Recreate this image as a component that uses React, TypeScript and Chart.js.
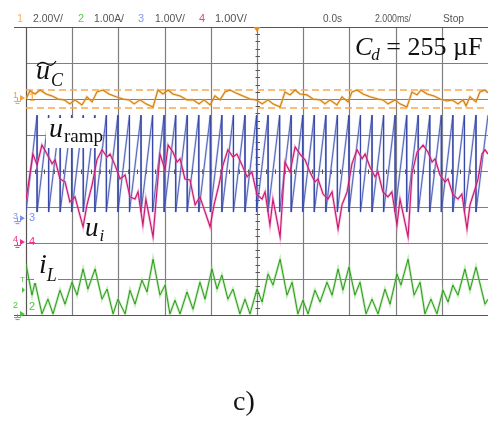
import React, { useEffect, useRef } from "react";
import { Chart, registerables } from "chart.js";
Chart.register(...registerables);

const W = 488;
const H = 421;

// Time axis in ms (2.000 ms/div, trigger at 0), vertical axis in screen divisions
const timeMin = -10;
const timeMax = 10;
const divMin = -4;
const divMax = 4;
const gridTimes = [-8, -6, -4, -2, 0, 2, 4, 6, 8];
const gridDivs = [-3, -2, -1, 0, 1, 2, 3];

// channel ground offsets (div) and units per division
const ch1 = { offset: 2.03, perDiv: 2 }; // 2.00V/
const ch2 = { offset: -4.03, perDiv: 1 }; // 1.00A/
const ch3 = { offset: -1.31, perDiv: 1 }; // 1.00V/
const ch4 = { offset: -1.97, perDiv: 1 }; // 1.00V/

// Channel 1: capacitor voltage ripple (V)
const ucT = [-10.0, -9.83, -9.61, -9.39, -9.13, -8.87, -8.61, -8.35, -8.1, -7.88, -7.58, -7.36, -7.14, -6.93, -6.67, -6.41, -6.1, -5.8, -5.54, -5.32, -5.06, -4.81, -4.5,
  -4.29, -4.07, -3.85, -3.64, -3.33, -3.03, -2.77, -2.51, -2.29, -2.03, -1.82, -1.6, -1.39, -1.17, -0.91, -0.61, -0.3, -0.04, 0.22, 0.48, 0.69, 1.0,
  1.21, 1.43, 1.65, 1.86, 2.16, 2.42, 2.73, 2.94, 3.16, 3.46, 3.68, 3.94, 4.11, 4.33, 4.59, 4.89, 5.24, 5.45, 5.67, 5.97, 6.19, 6.49,
  6.71, 6.93, 7.1, 7.36, 7.66, 7.92, 8.23, 8.44, 8.7, 8.92, 9.05, 9.22, 9.48, 9.65, 9.87, 10.0];
const ucV = [-0.06, 0.39, 0.22, 0.44, 0.22, 0.11, -0.06, -0.11, -0.33, -0.11, -0.39, 0.06, -0.22, 0.33, 0.44, 0.22, 0.06, -0.06, -0.11, -0.33, -0.11, -0.33, -0.5,
  0.44, 0.22, 0.44, 0.22, 0.11, -0.11, -0.11, -0.33, -0.11, -0.39, 0.11, -0.11, 0.33, 0.44, 0.28, 0.11, -0.06, -0.11, -0.33, -0.11, -0.33, -0.5,
  0.33, 0.17, 0.44, 0.22, 0.17, -0.06, -0.11, -0.33, -0.11, -0.39, 0.06, -0.22, 0.33, 0.44, 0.22, 0.06, -0.06, -0.11, -0.33, -0.11, -0.33, -0.5,
  0.33, 0.17, 0.44, 0.22, 0.11, -0.06, -0.17, -0.11, -0.33, -0.11, -0.44, 0.06, -0.22, 0.33, 0.44, 0.28];
const ucCursors = [0.44, -0.56];

// Channel 2: inductor current (A)
const ilT = [-10.0, -9.74, -9.61, -9.31, -9.05, -8.83, -8.53, -8.31, -8.01, -7.79, -7.53, -7.32, -7.01, -6.71, -6.49, -6.23, -6.02, -5.71, -5.5, -5.28, -4.98, -4.76,
  -4.5, -4.2, -3.98, -3.77, -3.55, -3.33, -3.03, -2.77, -2.47, -2.25, -1.95, -1.73, -1.52, -1.26, -1.04, -0.74, -0.52, -0.3, 0.0, 0.22, 0.48, 0.69,
  1.0, 1.3, 1.52, 1.77, 1.99, 2.21, 2.51, 2.73, 3.03, 3.25, 3.51, 3.72, 3.98, 4.24, 4.46, 4.72, 4.98, 5.24, 5.54, 5.76, 6.06, 6.23,
  6.54, 6.8, 7.06, 7.27, 7.53, 7.79, 8.05, 8.27, 8.48, 8.7, 9.0, 9.22, 9.48, 9.87, 10.0];
const ilA = [1.44, 0.58, 0.94, 0.06, 0.47, 0.06, 0.72, 0.33, 0.94, 0.58, 1.31, 0.75, 1.31, 0.47, 0.75, 0.06, 0.47, 0.06, 0.72, 0.33, 1.0, 0.67,
  1.58, 0.58, 0.86, 0.06, 0.44, 0.06, 0.67, 0.19, 0.94, 0.47, 1.31, 0.75, 1.14, 0.47, 0.75, 0.06, 0.47, 0.06, 0.75, 0.39, 1.17, 0.86,
  1.58, 0.58, 0.94, 0.06, 0.44, 0.06, 0.72, 0.39, 0.94, 0.58, 1.31, 0.72, 1.36, 0.58, 0.94, 0.06, 0.47, 0.06, 0.75, 0.33, 1.17, 0.86,
  1.58, 0.58, 0.94, 0.06, 0.47, 0.06, 0.72, 0.39, 0.86, 0.58, 1.31, 0.72, 1.36, 0.33, 0.47];

// Channel 3: ramp (V) – reset instants (ms) and levels
const rampResets = [-9.52, -9.02, -8.52, -8.02, -7.52, -7.02, -6.52, -6.02, -5.52, -5.02, -4.52, -4.02, -3.52, -3.02, -2.52, -2.02, -1.52, -1.02, -0.52, -0.02,
  0.48, 0.98, 1.48, 1.98, 2.48, 2.98, 3.48, 3.98, 4.48, 4.98, 5.48, 5.98, 6.48, 6.98, 7.48, 7.98, 8.48, 8.98, 9.48];
const rampLow = 0.17;
const rampHigh = 2.86;

// Channel 4: u_i (V)
const uiT = [-10.0, -9.7, -9.52, -9.31, -9.09, -8.87, -8.74, -8.53, -8.31, -8.1, -7.88, -7.53, -7.36, -7.14, -6.93, -6.71, -6.49, -6.36, -6.15, -5.93, -5.71, -5.5, -5.28, -5.15, -4.94, -4.81,
  -4.5, -4.2, -3.98, -3.85, -3.64, -3.46, -3.33, -3.12, -2.9, -2.68, -2.47, -2.03, -1.86, -1.65, -1.47, -1.26, -1.04, -0.87, -0.65, -0.43, -0.22, 0.0, 0.22, 0.35, 0.56, 0.69,
  1.0, 1.21, 1.43, 1.65, 1.86, 2.08, 2.29, 2.51, 2.64, 2.86, 3.07, 3.25, 3.51, 3.68, 3.9, 4.11, 4.33, 4.55, 4.68, 4.89, 5.11, 5.24, 5.45, 5.67, 5.84, 6.06, 6.19,
  6.54, 6.71, 6.93, 7.19, 7.4, 7.58, 7.71, 7.92, 8.14, 8.27, 8.48, 8.7, 8.87, 9.09, 9.22, 9.44, 9.57, 9.74, 9.87, 10.0];
const uiV = [1.17, 2.44, 2.14, 2.69, 2.44, 2.17, 2.28, 1.75, 1.67, 1.11, 1.25, 0.42, 1.03, 1.58, 2.28, 2.56, 2.36, 2.44, 2.14, 1.75, 1.86, 1.25, 1.19, 1.39, 0.47, 1.19,
  0.14, 2.44, 2.0, 2.69, 2.5, 2.22, 2.31, 1.75, 1.72, 1.03, 1.25, 0.42, 1.03, 1.58, 2.14, 2.56, 2.36, 2.44, 2.14, 1.81, 1.94, 1.31, 1.19, 1.39, 0.47, 1.19,
  0.14, 2.22, 1.94, 2.64, 2.44, 2.28, 1.94, 1.67, 1.75, 1.33, 1.19, 1.39, 0.36, 1.03, 1.39, 2.17, 2.56, 2.31, 2.44, 2.08, 1.81, 1.94, 1.39, 1.25, 1.39, 0.47, 1.19,
  0.14, 1.89, 2.5, 2.69, 2.5, 2.22, 2.31, 1.86, 1.67, 1.75, 1.31, 1.19, 1.33, 0.36, 1.03, 1.47, 1.75, 2.44, 2.56, 2.44];

const headerItems = [
  { text: "1", x: 17, color: "#f5b066" },
  { text: "2.00V/", x: 33, color: "#555", w: 30 },
  { text: "2", x: 78, color: "#58cc48" },
  { text: "1.00A/", x: 94, color: "#555", w: 30 },
  { text: "3", x: 138, color: "#8595ee" },
  { text: "1.00V/", x: 155, color: "#555", w: 30 },
  { text: "4", x: 199, color: "#ef3a92" },
  { text: "1.00V/", x: 215, color: "#555", w: 32 },
  { text: "0.0s", x: 323, color: "#555", w: 19 },
  { text: "2.000ms/", x: 375, color: "#555", w: 36 },
  { text: "Stop", x: 443, color: "#555", w: 21 },
];

const toPts = (ts: number[], vs: number[], ch: { offset: number; perDiv: number }) =>
  ts.map((t, i) => ({ x: t, y: ch.offset + vs[i] / ch.perDiv }));

function rampPoints() {
  const pts = [{ x: timeMin, y: ch3.offset + rampLow }];
  rampResets.forEach((r) => {
    pts.push({ x: r, y: ch3.offset + rampHigh });
    pts.push({ x: r, y: ch3.offset + rampLow });
  });
  pts.push({ x: timeMax, y: ch3.offset + rampHigh });
  return pts;
}

const SERIF = '"Liberation Serif", "Times New Roman", serif';
const SANS = '"Liberation Sans", Arial, sans-serif';

function runs(ctx: CanvasRenderingContext2D, x: number, items: { t: string; f: string; y: number; dx?: number }[]) {
  let cx = x;
  items.forEach((r) => {
    ctx.font = r.f;
    cx += r.dx || 0;
    ctx.fillText(r.t, cx, r.y);
    cx += ctx.measureText(r.t).width;
  });
}

function chanMarker(ctx: CanvasRenderingContext2D, label: string, y: number, color: string, labelY?: number) {
  const ly = labelY ?? y;
  ctx.fillStyle = color;
  ctx.strokeStyle = color;
  ctx.textAlign = "left";
  ctx.textBaseline = "middle";
  ctx.font = `9px ${SANS}`;
  ctx.fillText(label, 13, ly - 2);
  ctx.beginPath();
  ctx.moveTo(20, y - 3);
  ctx.lineTo(25, y);
  ctx.lineTo(20, y + 3);
  ctx.closePath();
  ctx.fill();
  ctx.lineWidth = 1;
  ctx.beginPath();
  ctx.moveTo(17.5, y);
  ctx.lineTo(17.5, y + 3);
  ctx.moveTo(14, y + 3.5);
  ctx.lineTo(21, y + 3.5);
  ctx.moveTo(15.5, y + 5.5);
  ctx.lineTo(19.5, y + 5.5);
  ctx.stroke();
  ctx.font = `11px ${SANS}`;
  ctx.fillText(label, 29, ly);
}

const scopePlugin = {
  id: "scope",
  beforeDatasetsDraw(chart: any) {
    const { ctx, chartArea: a, scales } = chart;
    const xs = scales.x;
    const ys = scales.y;
    ctx.save();
    ctx.fillStyle = "#fff";
    ctx.fillRect(0, 0, W, H);
    ctx.lineWidth = 1.2;
    ctx.strokeStyle = "#7e7e7e";
    gridTimes.forEach((t) => {
      const x = Math.round(xs.getPixelForValue(t)) + 0.5;
      ctx.beginPath();
      ctx.moveTo(x, a.top);
      ctx.lineTo(x, a.bottom);
      ctx.stroke();
    });
    gridDivs.forEach((d) => {
      const y = Math.round(ys.getPixelForValue(d)) + 0.5;
      ctx.beginPath();
      ctx.moveTo(a.left, y);
      ctx.lineTo(a.right, y);
      ctx.stroke();
    });
    // center axes with minor ticks
    ctx.lineWidth = 1;
    ctx.strokeStyle = "#555";
    const cx = Math.round(xs.getPixelForValue(0)) + 0.5;
    const cy = Math.round(ys.getPixelForValue(0)) + 0.5;
    for (let d = divMin; d <= divMax; d += 0.2) {
      const y = Math.round(ys.getPixelForValue(d)) + 0.5;
      ctx.beginPath();
      ctx.moveTo(cx - 2, y);
      ctx.lineTo(cx + 2.5, y);
      ctx.stroke();
    }
    for (let t = timeMin; t <= timeMax; t += 0.4) {
      const x = Math.round(xs.getPixelForValue(t)) + 0.5;
      ctx.beginPath();
      ctx.moveTo(x, cy - 2);
      ctx.lineTo(x, cy + 2.5);
      ctx.stroke();
    }
    // border
    ctx.strokeStyle = "#555";
    ctx.lineWidth = 1.2;
    ctx.beginPath();
    ctx.moveTo(14, a.top + 0.5);
    ctx.lineTo(W, a.top + 0.5);
    ctx.moveTo(14, a.bottom + 0.5);
    ctx.lineTo(W, a.bottom + 0.5);
    ctx.moveTo(a.left + 0.5, a.top);
    ctx.lineTo(a.left + 0.5, a.bottom);
    ctx.stroke();
    ctx.restore();
  },
  afterDatasetsDraw(chart: any) {
    const { ctx, chartArea: a, scales } = chart;
    const xs = scales.x;
    const ys = scales.y;
    ctx.save();
    // trigger marker
    const tx = xs.getPixelForValue(0);
    ctx.fillStyle = "#f08a10";
    ctx.beginPath();
    ctx.moveTo(tx - 3.5, a.top);
    ctx.lineTo(tx + 3.5, a.top);
    ctx.lineTo(tx, a.top + 5);
    ctx.closePath();
    ctx.fill();

    // channel markers
    chanMarker(ctx, "1", ys.getPixelForValue(ch1.offset), "#f0a040");
    chanMarker(ctx, "3", ys.getPixelForValue(ch3.offset), "#7d8ff0");
    chanMarker(ctx, "4", ys.getPixelForValue(ch4.offset), "#ee2e8c");
    const g = ys.getPixelForValue(ch2.offset);
    chanMarker(ctx, "2", g - 2, "#4fc040", g - 9);
    ctx.fillStyle = "#4fc040";
    ctx.font = `8px ${SANS}`;
    ctx.fillText("T", 20, g - 36);
    ctx.beginPath();
    ctx.moveTo(22, g - 29);
    ctx.lineTo(25, g - 26);
    ctx.lineTo(22, g - 23);
    ctx.closePath();
    ctx.fill();

    // label boxes
    ctx.fillStyle = "#fff";
    ctx.fillRect(46, 118, 55, 30);
    ctx.fillRect(34, 254, 24, 29);

    ctx.fillStyle = "#111";
    ctx.textAlign = "left";
    ctx.textBaseline = "alphabetic";
    // C_d = 255 µF
    runs(ctx, 355, [
      { t: "C", f: `italic 26px ${SERIF}`, y: 55 },
      { t: "d", f: `italic 17px ${SERIF}`, y: 60, dx: -1 },
      { t: " = 255 µF", f: `26px ${SERIF}`, y: 55 },
    ]);
    // ũ_C
    runs(ctx, 36, [
      { t: "u", f: `italic 28px ${SERIF}`, y: 79 },
      { t: "C", f: `italic 18px ${SERIF}`, y: 86, dx: 1 },
    ]);
    ctx.strokeStyle = "#111";
    ctx.lineWidth = 1.3;
    ctx.beginPath();
    ctx.moveTo(37, 66);
    ctx.bezierCurveTo(41, 60, 45, 63, 47, 64);
    ctx.bezierCurveTo(50, 66, 53, 66, 56, 61);
    ctx.stroke();
    // u_ramp
    runs(ctx, 49, [
      { t: "u", f: `italic 28px ${SERIF}`, y: 137 },
      { t: "ramp", f: `19px ${SERIF}`, y: 142, dx: 1 },
    ]);
    // u_i
    runs(ctx, 85, [
      { t: "u", f: `italic 27px ${SERIF}`, y: 236 },
      { t: "i", f: `italic 17px ${SERIF}`, y: 241, dx: 1 },
    ]);
    // i_L
    runs(ctx, 39, [
      { t: "i", f: `italic 28px ${SERIF}`, y: 273 },
      { t: "L", f: `italic 18px ${SERIF}`, y: 281, dx: 0 },
    ]);
    ctx.restore();
  },
  afterDraw(chart: any) {
    const { ctx } = chart;
    ctx.save();
    ctx.textAlign = "left";
    ctx.textBaseline = "alphabetic";
    ctx.font = `11px ${SANS}`;
    headerItems.forEach((h) => {
      ctx.fillStyle = h.color;
      if (h.w) ctx.fillText(h.text, h.x, 22, h.w);
      else ctx.fillText(h.text, h.x, 22);
    });
    ctx.fillStyle = "#111";
    ctx.font = `28px ${SERIF}`;
    ctx.textAlign = "center";
    ctx.fillText("c)", 244, 410);
    ctx.restore();
  },
};

function line(data: any[], color: string, width: number, order: number, dash?: number[]) {
  return {
    data,
    borderColor: color,
    borderWidth: width,
    pointRadius: 0,
    tension: 0,
    fill: false,
    order,
    borderDash: dash || [],
  };
}

export default function App() {
  const ref = useRef<HTMLCanvasElement>(null);
  useEffect(() => {
    if (!ref.current) return;
    const ramp = rampPoints();
    const ui = toPts(uiT, uiV, ch4);
    const uc = toPts(ucT, ucV, ch1);
    const il = toPts(ilT, ilA, ch2);
    const cursors = ucCursors.map((v) => [
      { x: timeMin, y: ch1.offset + v / ch1.perDiv },
      { x: timeMax, y: ch1.offset + v / ch1.perDiv },
    ]);
    const chart = new Chart(ref.current, {
      type: "line",
      data: {
        datasets: [
          line(cursors[0], "#f9a850", 1.4, 30, [7, 4]),
          line(cursors[1], "#f9a850", 1.4, 30, [7, 4]),
          line(ramp, "rgba(140,160,228,0.45)", 2.2, 20),
          line(ramp, "#3646a4", 0.8, 19),
          line(ui, "rgba(235,130,185,0.5)", 2.6, 18),
          line(ui, "#c8156e", 1.1, 17),
          line(uc, "rgba(245,185,100,0.5)", 2.6, 16),
          line(uc, "#cc8010", 1.1, 15),
          line(il, "rgba(140,215,120,0.5)", 2.6, 14),
          line(il, "#2e9a1e", 1.0, 13),
        ] as any,
      },
      options: {
        responsive: false,
        animation: false,
        devicePixelRatio: 1,
        events: [],
        layout: { padding: { left: 26, top: 27, right: 0, bottom: H - 315 } },
        plugins: { legend: { display: false }, tooltip: { enabled: false } },
        scales: {
          x: { type: "linear", min: timeMin, max: timeMax, display: false },
          y: { type: "linear", min: divMin, max: divMax, display: false },
        },
      } as any,
      plugins: [scopePlugin],
    });
    return () => chart.destroy();
  }, []);
  return (
    <div style={{ position: "fixed", left: 0, top: 0, width: W, height: H, background: "#fff" }}>
      <canvas ref={ref} width={W} height={H} style={{ display: "block" }} />
    </div>
  );
}
